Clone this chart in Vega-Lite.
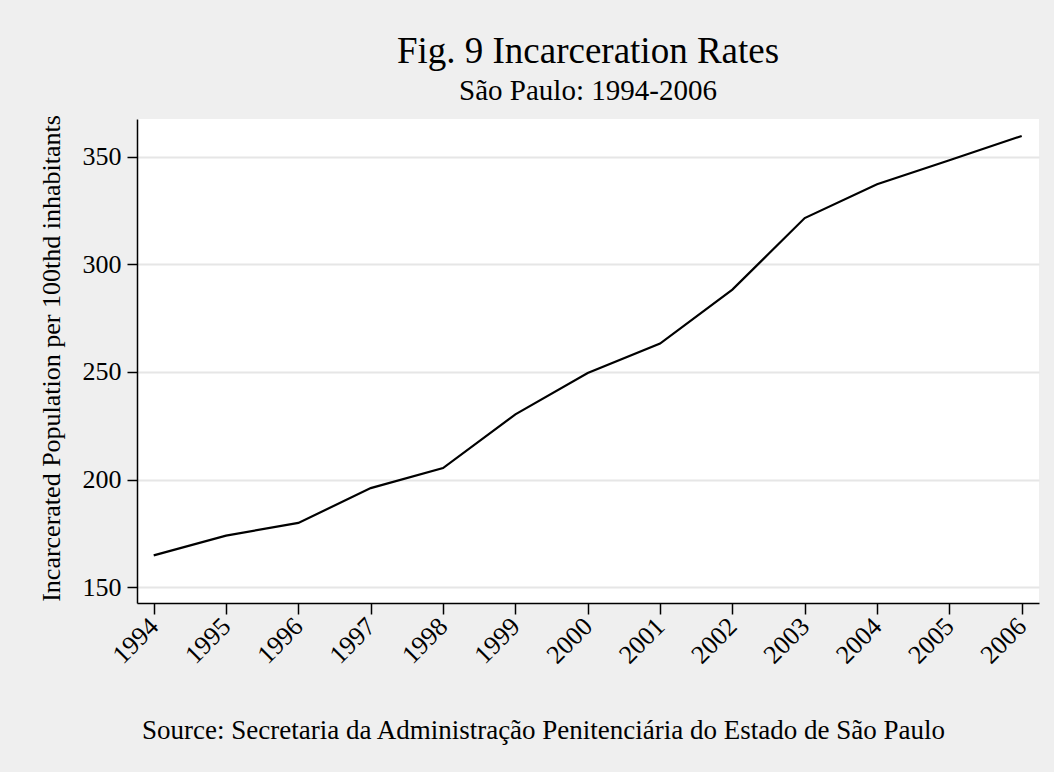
{
  "$schema": "https://vega.github.io/schema/vega-lite/v6.json",
  "autosize": "none",
  "padding": {"left": 137, "top": 119, "right": 15, "bottom": 169},
  "width": 902,
  "height": 484,
  "background": "#EFEFEF",
  "title": {
    "text": "Fig. 9 Incarceration Rates",
    "subtitle": "São Paulo: 1994-2006",
    "font": "Liberation Serif",
    "subtitleFont": "Liberation Serif",
    "fontSize": 37,
    "subtitleFontSize": 29,
    "fontWeight": "normal",
    "color": "black",
    "subtitleColor": "black",
    "anchor": "middle",
    "frame": "group",
    "offset": 8,
    "subtitlePadding": 6
  },
  "data": {
    "values": [
      {"year": 1994, "rate": 164.7},
      {"year": 1995, "rate": 173.9},
      {"year": 1996, "rate": 179.8},
      {"year": 1997, "rate": 196.0},
      {"year": 1998, "rate": 205.3},
      {"year": 1999, "rate": 230.3},
      {"year": 2000, "rate": 249.5},
      {"year": 2001, "rate": 263.2},
      {"year": 2002, "rate": 288.3},
      {"year": 2003, "rate": 321.6},
      {"year": 2004, "rate": 337.3},
      {"year": 2005, "rate": 348.5},
      {"year": 2006, "rate": 359.8}
    ]
  },
  "mark": {"type": "line", "color": "black", "strokeWidth": 2.2, "clip": false},
  "encoding": {
    "x": {
      "field": "year",
      "type": "quantitative",
      "scale": {"domain": [1993.769, 2006.239], "nice": false, "zero": false},
      "axis": {
        "values": [1994, 1995, 1996, 1997, 1998, 1999, 2000, 2001, 2002, 2003, 2004, 2005, 2006],
        "format": "d",
        "labelAngle": -45,
        "labelAlign": "right",
        "labelBaseline": "middle",
        "labelFont": "Liberation Serif",
        "labelFontSize": 26,
        "labelColor": "black",
        "labelPadding": 8,
        "tickSize": 11,
        "tickColor": "black",
        "tickWidth": 1.5,
        "domainColor": "black",
        "domainWidth": 1.5,
        "grid": false,
        "labelOverlap": false,
        "title": "Source: Secretaria da Administração Penitenciária do Estado de São Paulo",
        "titleFont": "Liberation Serif",
        "titleFontSize": 27,
        "titleFontWeight": "normal",
        "titleColor": "black",
        "titleX": 406,
        "titleY": 135,
        "titleAlign": "center",
        "titleBaseline": "alphabetic"
      }
    },
    "y": {
      "field": "rate",
      "type": "quantitative",
      "scale": {"domain": [142.56, 367.67], "nice": false, "zero": false},
      "axis": {
        "values": [150, 200, 250, 300, 350],
        "labelFont": "Liberation Serif",
        "labelFontSize": 26,
        "labelColor": "black",
        "labelPadding": 6,
        "tickSize": 10,
        "tickColor": "black",
        "tickWidth": 1.5,
        "domainColor": "black",
        "domainWidth": 1.5,
        "grid": true,
        "gridColor": "#E6E6E6",
        "gridWidth": 2,
        "title": "Incarcerated Population per 100thd inhabitants",
        "titleFont": "Liberation Serif",
        "titleFontSize": 26,
        "titleFontWeight": "normal",
        "titleColor": "black",
        "titlePadding": 18,
        "titleY": 239
      }
    }
  },
  "config": {
    "view": {"fill": "white", "stroke": null}
  }
}
